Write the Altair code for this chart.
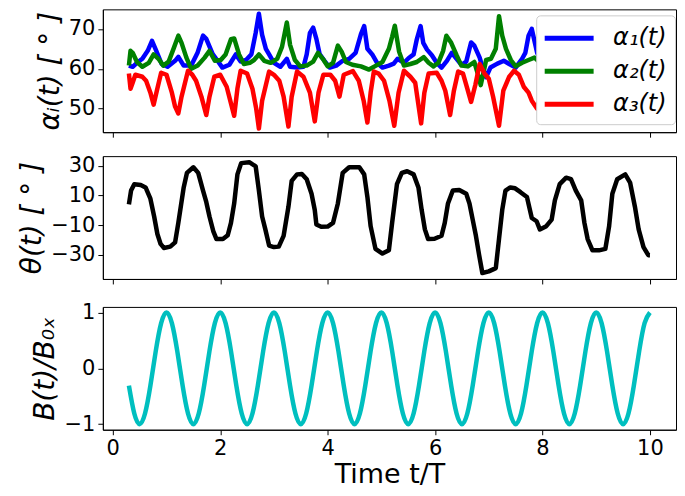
import altair as alt
import pandas as pd

# ---------------- data ----------------
names = ["α₁(t)", "α₂(t)", "α₃(t)"]
colors = ["#0000ff", "#008000", "#ff0000"]

a1_t = [0.30, 0.37, 0.45, 0.55, 0.65, 0.73, 0.80, 0.91, 1.02, 1.16, 1.22, 1.32, 1.46, 1.58, 1.68,
        1.74, 1.86, 1.95, 2.04, 2.17, 2.29, 2.38, 2.48, 2.58, 2.66, 2.72, 2.78, 2.85, 2.91, 3.00,
        3.12, 3.24, 3.30, 3.43, 3.55, 3.61, 3.67, 3.73, 3.79, 3.85, 3.94, 4.04, 4.16, 4.28, 4.40,
        4.52, 4.62, 4.68, 4.74, 4.83, 4.92, 5.02, 5.14, 5.23, 5.30, 5.42, 5.51, 5.60, 5.66, 5.73,
        5.78, 5.85, 5.94, 6.03, 6.12, 6.22, 6.31, 6.40, 6.49, 6.58, 6.67, 6.73, 6.83, 6.89, 6.95,
        7.03, 7.16, 7.28, 7.38, 7.50, 7.62, 7.68, 7.74, 7.80, 7.90, 8.00, 8.20, 8.40, 8.60, 8.70,
        8.90, 9.10, 9.30, 9.50, 9.60, 9.80, 10.00]
a1_v = [60.8, 60.5, 61.5, 62.5, 64.5, 67.0, 64.8, 61.2, 60.5, 62.0, 63.0, 60.8, 60.8, 64.1, 68.3,
        67.5, 63.7, 62.0, 60.3, 61.0, 63.6, 61.8, 62.2, 63.6, 69.0, 73.8, 68.5, 65.0, 63.6, 61.5,
        60.5, 62.5, 60.5, 60.3, 60.5, 63.6, 69.0, 70.3, 67.5, 63.7, 62.0, 60.3, 60.8, 62.0, 62.5,
        64.0, 68.7, 70.7, 65.0, 63.6, 61.5, 60.3, 60.8, 61.3, 62.5, 61.5, 62.7, 63.6, 67.4, 70.7,
        66.5, 64.8, 63.4, 61.5, 60.3, 62.0, 64.0, 62.5, 61.0, 61.8, 66.6, 65.8, 62.8, 60.0, 57.9,
        60.3, 61.3, 62.0, 61.2, 60.3, 62.5, 64.0, 68.3, 70.0, 64.0, 61.0, 60.5, 62.0, 67.0, 64.0,
        61.0, 60.5, 63.0, 68.0, 64.0, 61.0, 60.5]

a2_t = [0.30, 0.33, 0.37, 0.45, 0.55, 0.67, 0.76, 0.85, 0.94, 1.04, 1.13, 1.22, 1.28, 1.37, 1.46,
        1.58, 1.71, 1.80, 1.90, 2.01, 2.10, 2.20, 2.26, 2.35, 2.44, 2.55, 2.63, 2.72, 2.82, 2.94,
        3.06, 3.15, 3.24, 3.30, 3.39, 3.49, 3.61, 3.73, 3.82, 3.91, 4.00, 4.10, 4.19, 4.26, 4.34,
        4.46, 4.62, 4.77, 4.90, 5.02, 5.14, 5.20, 5.25, 5.33, 5.42, 5.54, 5.66, 5.79, 5.88, 5.97,
        6.06, 6.15, 6.21, 6.30, 6.40, 6.49, 6.61, 6.73, 6.79, 6.85, 6.90, 6.95, 7.04, 7.13, 7.19,
        7.25, 7.32, 7.41, 7.50, 7.62, 7.74, 7.85, 8.00, 8.20, 8.30, 8.50, 8.70, 8.80, 9.00, 9.20,
        9.30, 9.50, 9.70, 9.80, 10.00]
a2_v = [60.8, 64.5, 64.0, 61.7, 60.5, 61.5, 63.6, 62.5, 60.8, 61.8, 65.0, 68.3, 66.5, 62.8, 60.0,
        60.8, 62.8, 64.5, 62.0, 62.2, 63.6, 67.4, 67.6, 63.6, 61.2, 61.5, 62.2, 63.6, 62.0, 61.5,
        62.5, 65.5, 71.6, 66.0, 62.2, 60.6, 60.8, 61.8, 64.0, 62.5, 60.6, 61.5, 65.8, 64.3, 61.7,
        61.0, 60.6, 59.8, 60.8, 61.7, 65.0, 68.0, 70.8, 64.3, 60.8, 61.2, 61.7, 62.9, 61.5, 60.6,
        61.5, 64.5, 68.3, 66.5, 63.4, 60.8, 60.6, 61.7, 59.0, 55.9, 59.0, 62.2, 62.5, 65.0, 73.2,
        68.3, 65.0, 62.2, 60.6, 61.5, 62.2, 62.8, 61.0, 66.0, 62.0, 60.8, 61.5, 64.5, 61.5, 66.0,
        62.5, 60.6, 61.5, 64.0, 61.0]

a3_t = [0.30, 0.33, 0.37, 0.42, 0.55, 0.62, 0.70, 0.76, 0.82, 0.90, 1.00, 1.10, 1.16, 1.22, 1.28,
        1.40, 1.48, 1.55, 1.65, 1.74, 1.80, 1.89, 2.00, 2.12, 2.26, 2.32, 2.38, 2.50, 2.60, 2.67,
        2.72, 2.78, 2.91, 3.00, 3.10, 3.18, 3.27, 3.33, 3.43, 3.55, 3.67, 3.76, 3.83, 3.92, 4.05,
        4.14, 4.22, 4.30, 4.47, 4.58, 4.67, 4.74, 4.80, 4.86, 4.95, 5.05, 5.15, 5.24, 5.32, 5.42,
        5.54, 5.63, 5.74, 5.80, 5.88, 6.03, 6.12, 6.19, 6.28, 6.35, 6.43, 6.52, 6.60, 6.67, 6.75,
        6.83, 6.92, 7.00, 7.08, 7.19, 7.27, 7.38, 7.47, 7.56, 7.65, 7.74, 7.80, 7.90, 8.00, 8.10,
        8.30, 8.45, 8.60, 8.80, 8.95, 9.10, 9.30, 9.45, 9.60, 9.80, 10.00]
a3_v = [58.8, 55.0, 56.5, 58.5, 58.0, 57.0, 54.0, 51.0, 54.5, 59.0, 58.5, 54.0, 50.5, 48.8, 53.0,
        59.5, 58.5, 57.0, 53.0, 48.4, 53.0, 58.0, 58.5, 55.5, 48.2, 55.0, 59.5, 58.8, 55.0, 50.0,
        45.0, 52.0, 59.3, 58.5, 57.0, 53.0, 45.5, 53.0, 59.3, 58.0, 54.0, 46.8, 54.0, 58.5, 58.5,
        57.0, 53.0, 58.5, 59.4, 57.0, 52.0, 46.5, 54.0, 59.3, 58.8, 57.0, 52.0, 45.7, 54.0, 59.5,
        58.0, 56.5, 46.3, 54.0, 58.8, 59.0, 57.0, 54.5, 48.4, 54.5, 59.3, 58.8, 55.0, 51.7, 56.0,
        61.2, 58.8, 57.5, 53.0, 45.7, 54.5, 58.0, 59.5, 58.5, 55.5, 54.0, 52.0, 50.0, 55.0, 59.0,
        57.0, 49.0, 58.5, 57.0, 48.0, 59.0, 57.0, 49.0, 58.5, 57.0, 52.0]

th_t = [0.30, 0.34, 0.40, 0.52, 0.61, 0.70, 0.77, 0.83, 0.89, 0.95, 1.07, 1.16, 1.22, 1.32, 1.38,
        1.50, 1.59, 1.68, 1.74, 1.80, 1.87, 1.93, 2.05, 2.14, 2.20, 2.26, 2.32, 2.39, 2.54, 2.66,
        2.72, 2.78, 2.84, 2.91, 3.00, 3.09, 3.18, 3.27, 3.33, 3.43, 3.52, 3.61, 3.70, 3.76, 3.79,
        3.88, 4.00, 4.10, 4.19, 4.28, 4.40, 4.59, 4.68, 4.74, 4.80, 4.89, 5.02, 5.14, 5.20, 5.29,
        5.38, 5.48, 5.60, 5.69, 5.75, 5.81, 5.87, 5.99, 6.12, 6.18, 6.24, 6.33, 6.45, 6.58, 6.64,
        6.70, 6.76, 6.82, 6.88, 7.00, 7.13, 7.19, 7.25, 7.31, 7.40, 7.49, 7.59, 7.71, 7.80, 7.89,
        7.95, 8.07, 8.17, 8.23, 8.32, 8.44, 8.53, 8.62, 8.72, 8.78, 8.84, 8.93, 9.05, 9.17, 9.24,
        9.30, 9.39, 9.54, 9.63, 9.72, 9.79, 9.88, 9.97, 10.00]
th_v = [4.0, 13.3, 17.6, 17.0, 15.4, 7.8, -4.2, -16.0, -22.7, -25.4, -24.5, -21.6, -8.5, 15.4, 25.2,
        29.0, 25.2, 13.3, 5.6, -4.2, -14.0, -19.4, -19.4, -16.8, -8.5, 4.6, 24.2, 31.8, 32.4, 29.6,
        13.3, -4.2, -12.9, -23.8, -24.8, -24.5, -17.2, 2.4, 19.8, 24.2, 24.5, 20.9, 11.1, 0.2, -9.6,
        -11.1, -11.0, -8.5, 4.6, 25.2, 29.0, 29.0, 24.2, 8.9, -10.7, -26.0, -29.2, -27.0, -8.5, 17.6,
        25.2, 26.3, 24.2, 15.4, 0.2, -12.9, -19.4, -19.2, -17.2, -8.5, 4.6, 13.3, 13.6, 11.1, 4.6,
        -6.3, -17.2, -30.3, -42.3, -41.2, -39.0, -19.4, 0.2, 13.3, 15.4, 14.8, 12.2, 8.9, -5.2, -7.4,
        -12.9, -10.7, -6.3, 6.7, 17.6, 22.0, 21.0, 13.3, 6.7, -8.5, -19.4, -27.0, -27.0, -26.0, -10.7,
        11.1, 20.9, 24.2, 18.7, 2.4, -12.9, -24.8, -30.3, -30.3]

b_t = [round(0.3 + 0.1 * i, 2) for i in range(98)]
b_v = [-0.31, -0.81, -1.00, -0.81, -0.31, 0.31, 0.81,
       1.00, 0.81, 0.31, -0.31, -0.81, -1.00, -0.81, -0.31, 0.31, 0.81,
       1.00, 0.81, 0.31, -0.31, -0.81, -1.00, -0.81, -0.31, 0.31, 0.81,
       1.00, 0.81, 0.31, -0.31, -0.81, -1.00, -0.81, -0.31, 0.31, 0.81,
       1.00, 0.81, 0.31, -0.31, -0.81, -1.00, -0.81, -0.31, 0.31, 0.81,
       1.00, 0.81, 0.31, -0.31, -0.81, -1.00, -0.81, -0.31, 0.31, 0.81,
       1.00, 0.81, 0.31, -0.31, -0.81, -1.00, -0.81, -0.31, 0.31, 0.81,
       1.00, 0.81, 0.31, -0.31, -0.81, -1.00, -0.81, -0.31, 0.31, 0.81,
       1.00, 0.81, 0.31, -0.31, -0.81, -1.00, -0.81, -0.31, 0.31, 0.81,
       1.00, 0.81, 0.31, -0.31, -0.81, -1.00, -0.81, -0.31, 0.31, 0.81,
       1.00]

x_ticks = [0, 2, 4, 6, 8, 10]

# ---------------- tables ----------------
df_a = pd.concat([
    pd.DataFrame({"t": a1_t, "v": a1_v, "s": names[0]}),
    pd.DataFrame({"t": a2_t, "v": a2_v, "s": names[1]}),
    pd.DataFrame({"t": a3_t, "v": a3_v, "s": names[2]}),
], ignore_index=True)
df_th = pd.DataFrame({"t": th_t, "v": th_v})
df_b = pd.DataFrame({"t": b_t, "v": b_v})

FONT = "DejaVu Sans"
W, H = 574, 123
x_scale = alt.Scale(domain=[-0.185, 10.485], nice=False, zero=False)
MINUS = "replace(datum.label, '-', '\u2212')"

def x_enc(show):
    if show:
        return alt.X("t:Q", scale=x_scale,
                     axis=alt.Axis(values=x_ticks, title="Time t/T", format="d",
                                   titleFontStyle="normal", titleFontSize=27,
                                   titlePadding=3))
    return alt.X("t:Q", scale=x_scale,
                 axis=alt.Axis(values=x_ticks, labels=False, title=None))

top = alt.Chart(df_a).mark_line(strokeWidth=4.5, strokeJoin="round").encode(
    x=x_enc(False),
    y=alt.Y("v:Q", scale=alt.Scale(domain=[44.1, 74.9], nice=False, zero=False),
            axis=alt.Axis(values=[50, 60, 70], title="αᵢ(t) [ ° ]", labelExpr=MINUS)),
    color=alt.Color("s:N", scale=alt.Scale(domain=names, range=colors),
                    legend=alt.Legend(title=None, orient="none", legendX=434, legendY=6,
                                      fillColor="white", strokeColor="#cccccc",
                                      cornerRadius=4, padding=8,
                                      symbolType="M-2,0H2", symbolSize=600,
                                      symbolStrokeWidth=5, symbolOffset=10,
                                      labelOffset=29, rowPadding=6,
                                      labelFont=FONT, labelFontSize=24,
                                      labelFontStyle="italic", labelColor="black")),
).properties(width=W, height=H)

mid = alt.Chart(df_th).mark_line(strokeWidth=4.5, strokeJoin="round", color="black").encode(
    x=x_enc(False),
    y=alt.Y("v:Q", scale=alt.Scale(domain=[-46.3, 36.5], nice=False, zero=False),
            axis=alt.Axis(values=[-30, -10, 10, 30], title="θ(t) [ ° ]", labelExpr=MINUS)),
).properties(width=W, height=H)

bot = alt.Chart(df_b).mark_line(strokeWidth=4.5, color="#00bfbf", interpolate="natural").encode(
    x=x_enc(True),
    y=alt.Y("v:Q", scale=alt.Scale(domain=[-1.1, 1.1], nice=False, zero=False),
            axis=alt.Axis(values=[-1, 0, 1], title="B(t)/B₀ₓ", labelExpr=MINUS)),
).properties(width=W, height=H)

chart = alt.vconcat(top, mid, bot, spacing=16).resolve_scale(
    color="independent").resolve_legend(color="independent").properties(
    padding={"left": 10, "top": 0, "right": 0, "bottom": 0}
).configure_view(stroke="black", strokeWidth=1).configure_axis(
    labelFont=FONT, labelFontSize=21, labelColor="black", labelPadding=3,
    titleFont=FONT, titleFontSize=28, titleFontWeight="normal", titleColor="black",
    titleFontStyle="italic", titlePadding=4,
    tickColor="black", tickSize=5, tickWidth=1, domainColor="black", grid=False,
)

chart.save("out.html", embed_options={"renderer": "svg", "actions": False})
